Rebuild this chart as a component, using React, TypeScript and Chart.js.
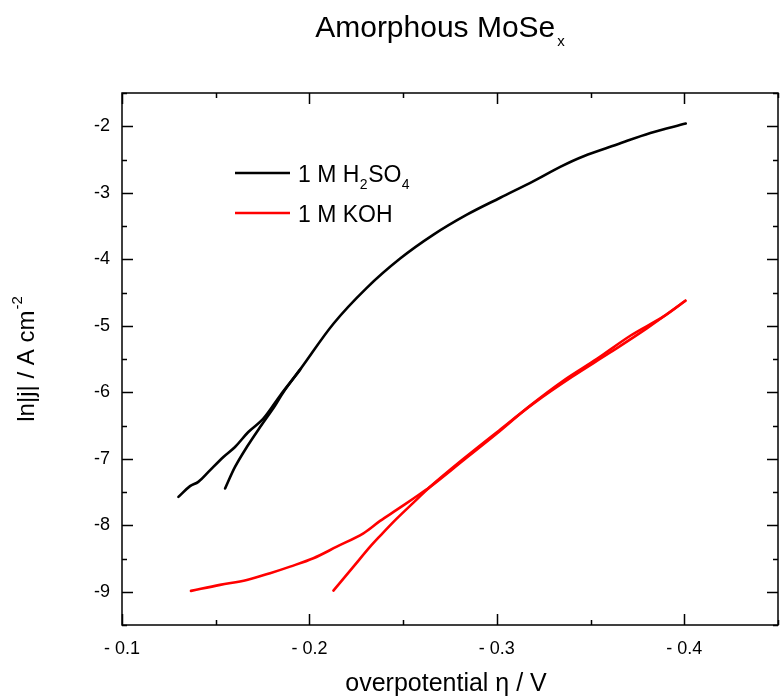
import { useEffect, useRef } from "react";
import { Chart, registerables } from "chart.js";

Chart.register(...registerables);

const FONT = '"Liberation Sans", Arial, Helvetica, sans-serif';

// ---- text ----
const titleMain = "Amorphous MoSe";
const titleSub = "x";
const xAxisTitle = "overpotential η / V";
const yAxisTitle = "ln|j| / A cm";
const yAxisTitleSup = "-2";
const legendH2SO4 = ["1 M H", "2", "SO", "4"]; // text, sub, text, sub
const legendKOH = "1 M KOH";

// ---- axes ----
const xMin = -0.45;
const xMax = -0.1;
const xStep = 0.05;
const yMin = -9.5;
const yMax = -1.5;
const yStep = 0.5;

// ---- data: [overpotential (V), ln|j|] ----
const h2so4Forward: [number, number][] = [
  [-0.1301, -7.573], [-0.1363, -7.412], [-0.1407, -7.348], [-0.1461, -7.198],
  [-0.1541, -6.973], [-0.1603, -6.823], [-0.1674, -6.598], [-0.1754, -6.397],
  [-0.1844, -6.048], [-0.195, -5.66], [-0.2128, -4.97], [-0.2306, -4.43],
  [-0.2484, -3.99], [-0.2662, -3.63], [-0.284, -3.33], [-0.3018, -3.075],
  [-0.3196, -2.825], [-0.3338, -2.61], [-0.3463, -2.45], [-0.3641, -2.274],
  [-0.3819, -2.1], [-0.4008, -1.96],
];
const h2so4Return: [number, number][] = [
  [-0.195, -5.66], [-0.1861, -5.999], [-0.1817, -6.198], [-0.1737, -6.523],
  [-0.1666, -6.823], [-0.1603, -7.123], [-0.155, -7.447],
];
const kohForward: [number, number][] = [
  [-0.1368, -8.987], [-0.1523, -8.897], [-0.1666, -8.822], [-0.179, -8.721],
  [-0.1897, -8.622], [-0.2021, -8.496], [-0.2146, -8.322], [-0.2288, -8.121],
  [-0.2377, -7.935], [-0.2467, -7.765], [-0.2555, -7.597], [-0.2644, -7.423],
  [-0.2822, -7.022], [-0.3, -6.622], [-0.3178, -6.2], [-0.3356, -5.823],
  [-0.3534, -5.498], [-0.3712, -5.15], [-0.389, -4.86], [-0.4006, -4.624],
];
const kohReturn: [number, number][] = [
  [-0.4006, -4.624], [-0.38, -5.04], [-0.36, -5.41], [-0.34, -5.77],
  [-0.32, -6.16], [-0.3, -6.6], [-0.2822, -7.0], [-0.2644, -7.42],
  [-0.2555, -7.66], [-0.2467, -7.897], [-0.2377, -8.16], [-0.2324, -8.322],
  [-0.2235, -8.622], [-0.2128, -8.982],
];

const BLACK = "#000000";
const RED = "#ff0000";

const toXY = (arr: [number, number][]) => arr.map(([x, y]) => ({ x, y }));
const isMajorX = (v: number) => Math.round(v * 20) % 2 === 0;
const isMajorY = (v: number) => Math.abs(v - Math.round(v)) < 1e-6;

const decorPlugin = {
  id: "decor",
  beforeDraw(chart: any) {
    const { ctx, width, height } = chart;
    ctx.save();
    ctx.fillStyle = "#ffffff";
    ctx.fillRect(0, 0, width, height);
    ctx.restore();
  },
  afterDraw(chart: any) {
    const { ctx, chartArea: a, scales } = chart;
    const xs = scales.x;
    const ys = scales.y;
    ctx.save();
    ctx.strokeStyle = "#000";
    ctx.lineWidth = 1.5;
    ctx.strokeRect(a.left, a.top, a.right - a.left, a.bottom - a.top);

    ctx.beginPath();
    for (const t of xs.ticks) {
      const px = Math.round(xs.getPixelForValue(t.value)) + 0.5;
      const len = isMajorX(t.value) ? 11 : 5;
      ctx.moveTo(px, a.bottom);
      ctx.lineTo(px, a.bottom - len);
      ctx.moveTo(px, a.top);
      ctx.lineTo(px, a.top + len);
    }
    for (const t of ys.ticks) {
      const py = Math.round(ys.getPixelForValue(t.value)) + 0.5;
      const len = isMajorY(t.value) ? 11 : 5;
      ctx.moveTo(a.left, py);
      ctx.lineTo(a.left + len, py);
      ctx.moveTo(a.right, py);
      ctx.lineTo(a.right - len, py);
    }
    ctx.stroke();

    ctx.fillStyle = "#000";
    ctx.textBaseline = "alphabetic";

    // title
    ctx.font = `30px ${FONT}`;
    const wMain = ctx.measureText(titleMain).width;
    ctx.font = `15px ${FONT}`;
    const wSub = ctx.measureText(titleSub).width;
    const tLeft = 440 - (wMain + wSub + 2) / 2;
    ctx.font = `30px ${FONT}`;
    ctx.textAlign = "left";
    ctx.fillText(titleMain, tLeft, 37);
    ctx.font = `15px ${FONT}`;
    ctx.fillText(titleSub, tLeft + wMain + 2, 46);

    // x axis title
    ctx.font = `25px ${FONT}`;
    ctx.textAlign = "center";
    ctx.fillText(xAxisTitle, (a.left + a.right) / 2 - 4, 691);

    // y axis title (rotated)
    ctx.save();
    ctx.translate(34, (a.top + a.bottom) / 2);
    ctx.rotate(-Math.PI / 2);
    ctx.font = `24px ${FONT}`;
    const wy = ctx.measureText(yAxisTitle).width;
    ctx.font = `15px ${FONT}`;
    const wys = ctx.measureText(yAxisTitleSup).width;
    const ly = -(wy + wys + 1) / 2;
    ctx.textAlign = "left";
    ctx.font = `24px ${FONT}`;
    ctx.fillText(yAxisTitle, ly, 0);
    ctx.font = `15px ${FONT}`;
    ctx.fillText(yAxisTitleSup, ly + wy + 1, -12);
    ctx.restore();

    // legend
    ctx.lineWidth = 2.5;
    ctx.strokeStyle = BLACK;
    ctx.beginPath();
    ctx.moveTo(235, 173);
    ctx.lineTo(290, 173);
    ctx.stroke();
    ctx.strokeStyle = RED;
    ctx.beginPath();
    ctx.moveTo(235, 213);
    ctx.lineTo(290, 213);
    ctx.stroke();

    ctx.textAlign = "left";
    let lx = 298;
    legendH2SO4.forEach((s, i) => {
      const sub = i % 2 === 1;
      ctx.font = sub ? `14px ${FONT}` : `23px ${FONT}`;
      ctx.fillText(s, lx, sub ? 189 : 182);
      lx += ctx.measureText(s).width + 0.5;
    });
    ctx.font = `23px ${FONT}`;
    ctx.fillText(legendKOH, 298, 222);

    ctx.restore();
  },
};

const lineDs = (data: [number, number][], color: string) => ({
  data: toXY(data),
  borderColor: color,
  backgroundColor: color,
  borderWidth: 2.6,
  pointRadius: 0,
  fill: false,
  tension: 0.35,
  borderCapStyle: "round" as const,
  borderJoinStyle: "round" as const,
});

export default function App() {
  const canvasRef = useRef<HTMLCanvasElement | null>(null);

  useEffect(() => {
    if (!canvasRef.current) return;
    const chart = new Chart(canvasRef.current, {
      type: "line",
      data: {
        datasets: [
          lineDs(h2so4Forward, BLACK),
          lineDs(h2so4Return, BLACK),
          lineDs(kohForward, RED),
          lineDs(kohReturn, RED),
        ],
      },
      options: {
        animation: false,
        responsive: false,
        devicePixelRatio: 1,
        layout: { padding: { top: 93, right: 2, left: 0, bottom: 0 } },
        plugins: {
          legend: { display: false },
          title: { display: false },
          tooltip: { enabled: false },
        },
        scales: {
          x: {
            type: "linear",
            min: xMin,
            max: xMax,
            reverse: true,
            position: "bottom",
            grid: { display: false, drawTicks: false },
            border: { display: false },
            ticks: {
              stepSize: xStep,
              autoSkip: false,
              maxRotation: 0,
              padding: 13,
              color: "#000",
              font: { family: FONT, size: 18 },
              callback: (v: any) => {
                const n = Number(v);
                return isMajorX(n) ? "- " + Math.abs(n).toFixed(1) : "";
              },
            },
            afterFit: (s: any) => {
              s.height = 73;
              s.paddingLeft = 0;
              s.paddingRight = 0;
            },
          },
          y: {
            type: "linear",
            min: yMin,
            max: yMax,
            position: "left",
            grid: { display: false, drawTicks: false },
            border: { display: false },
            ticks: {
              stepSize: yStep,
              autoSkip: false,
              padding: 12,
              color: "#000",
              font: { family: FONT, size: 18 },
              callback: (v: any) => {
                const n = Number(v);
                return isMajorY(n) ? String(Math.round(n)) : "";
              },
            },
            afterFit: (s: any) => {
              s.width = 122;
              s.paddingTop = 0;
              s.paddingBottom = 0;
            },
          },
        },
      },
      plugins: [decorPlugin],
    });
    return () => chart.destroy();
  }, []);

  return (
    <div style={{ position: "fixed", left: 0, top: 0, width: 780, height: 698, background: "#fff" }}>
      <canvas ref={canvasRef} width={780} height={698} style={{ width: 780, height: 698, display: "block" }} />
    </div>
  );
}
